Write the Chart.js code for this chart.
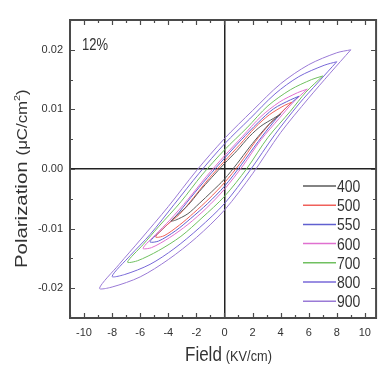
<!DOCTYPE html>
<html>
<head>
<meta charset="utf-8">
<script src="https://cdn.jsdelivr.net/npm/chart.js@4.4.1/dist/chart.umd.min.js"></script>
<style>
  body { margin: 0; background: #fff; }
  canvas { display: block; }
</style>
</head>
<body>
<canvas id="chart" width="379" height="366"></canvas>
<script>
// Annealing temperatures and loop colours
const TEMPS = ['400', '500', '550', '600', '700', '800', '900'];
const COLORS = ['#5a5a5a', '#f0605a', '#6060d0', '#e070d0', '#70c060', '#7868d8', '#9a7ad6'];

// P-E loops, field in kV/cm and polarization in uC/cm2
// each one runs +Emax -> upper branch -> -Emax -> lower branch -> +Emax
const E_400 = [4.0, 3.5, 2.6, 1.8, 0.9, 0, -0.9, -1.8, -2.6, -3.3, -3.8, -3.5, -2.6, -1.8, -0.9, 0, 0.9, 1.8, 2.6, 3.3, 4.0];
const P_400 = [0.0092, 0.0085, 0.0072, 0.0055, 0.0031, 0.0009, -0.0014, -0.0038, -0.0061, -0.0076, -0.0087, -0.0086, -0.0075, -0.0058, -0.0038, -0.0017, 0.0009, 0.0037, 0.0060, 0.0078, 0.0092];

const E_500 = [4.8, 4.3, 3.2, 2.2, 1.1, 0, -1.1, -2.2, -3.2, -4.1, -4.9, -4.3, -3.2, -2.2, -1.1, 0, 1.1, 2.2, 3.2, 4.1, 4.8];
const P_500 = [0.0112, 0.0107, 0.0091, 0.0070, 0.0041, 0.0013, -0.0016, -0.0048, -0.0076, -0.0094, -0.0114, -0.0112, -0.0094, -0.0074, -0.0050, -0.0023, 0.0009, 0.0046, 0.0075, 0.0096, 0.0112];

const E_550 = [5.3, 4.7, 3.5, 2.4, 1.2, 0, -1.2, -2.4, -3.5, -4.4, -5.3, -4.7, -3.5, -2.4, -1.2, 0, 1.2, 2.4, 3.5, 4.4, 5.3];
const P_550 = [0.0122, 0.0116, 0.0101, 0.0078, 0.0049, 0.0018, -0.0014, -0.0048, -0.0080, -0.0101, -0.0122, -0.0121, -0.0104, -0.0083, -0.0058, -0.0029, 0.0007, 0.0046, 0.0079, 0.0103, 0.0122];

const E_600 = [5.9, 5.2, 3.9, 2.6, 1.3, 0, -1.3, -2.6, -3.9, -4.9, -5.8, -5.2, -3.9, -2.6, -1.3, 0, 1.3, 2.6, 3.9, 4.9, 5.9];
const P_600 = [0.0134, 0.0128, 0.0112, 0.0088, 0.0055, 0.0022, -0.0013, -0.0051, -0.0086, -0.0110, -0.0133, -0.0132, -0.0115, -0.0093, -0.0066, -0.0034, 0.0005, 0.0049, 0.0085, 0.0112, 0.0134];

const E_700 = [7.0, 6.2, 4.7, 3.1, 1.6, 0, -1.6, -3.1, -4.7, -5.8, -6.9, -6.2, -4.7, -3.1, -1.6, 0, 1.6, 3.1, 4.7, 5.8, 7.0];
const P_700 = [0.0156, 0.0150, 0.0133, 0.0106, 0.0069, 0.0032, -0.0010, -0.0055, -0.0097, -0.0127, -0.0156, -0.0154, -0.0137, -0.0113, -0.0082, -0.0046, 0.0001, 0.0053, 0.0097, 0.0129, 0.0156];

const E_800 = [8.0, 7.1, 5.3, 3.6, 1.8, 0, -1.8, -3.6, -5.3, -6.7, -8.0, -7.1, -5.3, -3.6, -1.8, 0, 1.8, 3.6, 5.3, 6.7, 8.0];
const P_800 = [0.0180, 0.0174, 0.0155, 0.0126, 0.0084, 0.0042, -0.0007, -0.0060, -0.0110, -0.0145, -0.0180, -0.0177, -0.0160, -0.0134, -0.0099, -0.0058, -0.0003, 0.0058, 0.0109, 0.0146, 0.0180];

const E_900 = [9.0, 8.0, 6.0, 4.0, 2.0, 0, -2.0, -4.0, -6.0, -7.5, -8.9, -8.0, -6.0, -4.0, -2.0, 0, 2.0, 4.0, 6.0, 7.5, 9.0];
const P_900 = [0.0200, 0.0195, 0.0175, 0.0143, 0.0098, 0.0051, -0.0003, -0.0063, -0.0119, -0.0160, -0.0200, -0.0198, -0.0181, -0.0152, -0.0115, -0.0069, -0.0008, 0.0061, 0.0119, 0.0160, 0.0200];

// Axis ticks
const X_TICKS = [-10, -8, -6, -4, -2, 0, 2, 4, 6, 8, 10];
const X_LABELS = ['-10', '-8', '-6', '-4', '-2', '0', '2', '4', '6', '8', '10'];
const Y_TICKS = [-0.02, -0.01, 0, 0.01, 0.02];
const Y_LABELS = ['-0.02', '-0.01', '0.00', '0.01', '0.02'];

const FONT = "'Liberation Sans', Arial, sans-serif";
const INK = '#333';
const FRAME = '#4a4a4a';

const LOOPS = [[E_400, P_400], [E_500, P_500], [E_550, P_550], [E_600, P_600],
               [E_700, P_700], [E_800, P_800], [E_900, P_900]];

const datasets = LOOPS.map(([e, p], i) => ({
  label: TEMPS[i],
  data: e.map((x, k) => ({ x: x, y: p[k] })),
  showLine: true,
  borderColor: COLORS[i],
  borderWidth: 1,
  pointRadius: 0,
  tension: 0.3,
  fill: false
}));

// text drawn with its own x/y stretch, returns drawn width
function stretched(ctx, str, x, y, size, sx, sy) {
  ctx.save();
  ctx.translate(x, y);
  ctx.scale(sx, sy);
  ctx.font = size + 'px ' + FONT;
  ctx.fillText(str, 0, 0);
  const w = ctx.measureText(str).width * sx;
  ctx.restore();
  return w;
}

// frame, inward ticks, legend, axis titles
const decorations = {
  id: 'decorations',
  afterDraw(chart) {
    const { ctx, chartArea: a, scales: { x, y } } = chart;
    ctx.save();

    // frame
    ctx.strokeStyle = FRAME;
    ctx.lineWidth = 2;
    ctx.strokeRect(a.left, a.top, a.right - a.left, a.bottom - a.top);

    // ticks on all four sides, pointing inwards
    ctx.lineWidth = 1.2;
    ctx.beginPath();
    for (let v = -11; v <= 10; v++) {
      const px = Math.round(x.getPixelForValue(v)) + 0.5;
      const len = v % 2 === 0 ? 5 : 3;
      ctx.moveTo(px, a.bottom); ctx.lineTo(px, a.bottom - len);
      ctx.moveTo(px, a.top); ctx.lineTo(px, a.top + len);
    }
    for (let k = -5; k <= 5; k++) {
      const py = Math.round(y.getPixelForValue(k * 0.005)) + 0.5;
      const len = k % 2 === 0 ? 5 : 3;
      ctx.moveTo(a.left, py); ctx.lineTo(a.left + len, py);
      ctx.moveTo(a.right, py); ctx.lineTo(a.right - len, py);
    }
    ctx.stroke();

    // legend
    ctx.fillStyle = INK;
    ctx.textAlign = 'left';
    ctx.textBaseline = 'alphabetic';
    chart.data.datasets.forEach((ds, i) => {
      const ly = 186 + i * 19.2;
      ctx.strokeStyle = ds.borderColor;
      ctx.lineWidth = 1.5;
      ctx.beginPath();
      ctx.moveTo(303, ly); ctx.lineTo(336, ly);
      ctx.stroke();
      stretched(ctx, ds.label, 337, ly + 6, 14, 1, 1.15);
    });

    // sample label
    stretched(ctx, '12%', 82, 50, 13, 1, 1.25);

    // x title
    const w = stretched(ctx, 'Field', 185, 361, 20, 0.85, 1);
    stretched(ctx, '(KV/cm)', 185 + w + 4, 361, 15, 0.85, 1);

    // y title, stretched along its length
    ctx.save();
    ctx.translate(27, 268);
    ctx.rotate(-Math.PI / 2);
    let pos = stretched(ctx, 'Polarization', 0, 0, 17, 1.2, 1) + 6;
    pos += stretched(ctx, '(\u03bcC/cm', pos, 0, 14, 1.2, 1);
    pos += stretched(ctx, '2', pos, -7, 9, 1.2, 1);
    stretched(ctx, ')', pos, 0, 14, 1.2, 1);
    ctx.restore();

    ctx.restore();
  }
};

const zeroLine = c => (c.tick && c.tick.value === 0 ? '#222' : 'rgba(0,0,0,0)');

new Chart(document.getElementById('chart'), {
  type: 'scatter',
  data: { datasets: datasets },
  options: {
    responsive: false,
    animation: false,
    layout: { padding: { top: 20, right: 1, left: 0, bottom: 0 } },
    plugins: { legend: { display: false }, tooltip: { enabled: false } },
    scales: {
      x: {
        type: 'linear',
        min: -11,
        max: 10.8,
        afterBuildTicks: s => { s.ticks = X_TICKS.map(v => ({ value: v })); },
        afterFit: s => { s.height = 48; },
        border: { display: false },
        grid: { drawTicks: false, color: zeroLine, lineWidth: 1.5 },
        ticks: {
          padding: 8, color: INK, autoSkip: false, maxRotation: 0,
          font: { size: 11, family: FONT },
          callback: v => X_LABELS[X_TICKS.indexOf(v)]
        }
      },
      y: {
        type: 'linear',
        min: -0.025,
        max: 0.025,
        afterBuildTicks: s => { s.ticks = Y_TICKS.map(v => ({ value: v })); },
        afterFit: s => { s.width = 70; },
        border: { display: false },
        grid: { drawTicks: false, color: zeroLine, lineWidth: 1.5 },
        ticks: {
          padding: 7, color: INK, autoSkip: false,
          font: { size: 11, family: FONT },
          callback: v => Y_LABELS[Y_TICKS.indexOf(v)]
        }
      }
    }
  },
  plugins: [decorations]
});
</script>
</body>
</html>
